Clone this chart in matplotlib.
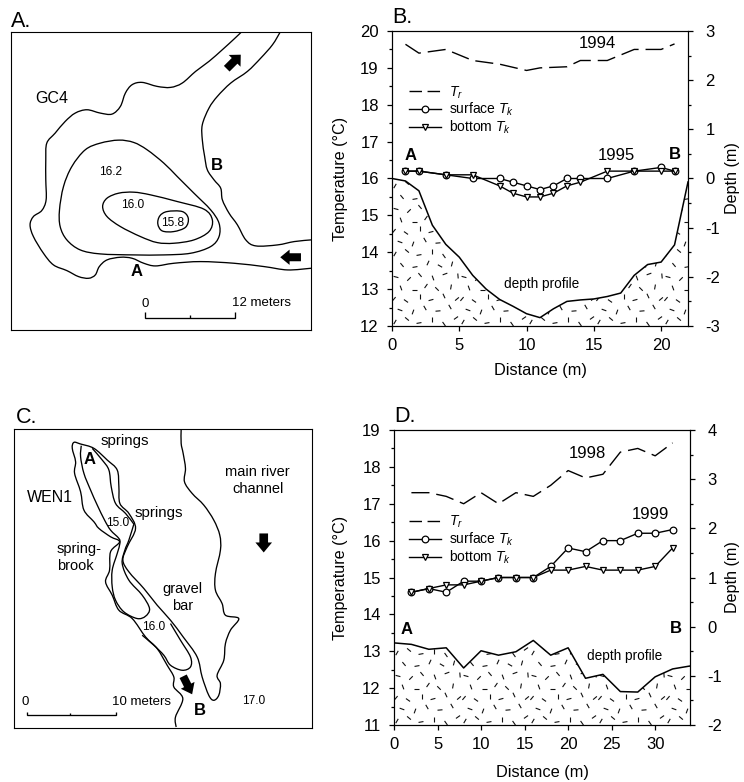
import matplotlib
matplotlib.use('Agg')
import matplotlib.pyplot as plt
import numpy as np
from matplotlib.collections import LineCollection
from matplotlib.lines import Line2D
from matplotlib.patches import FancyArrow, PathPatch, Polygon
from matplotlib.path import Path
from matplotlib.ticker import MultipleLocator

plt.rcParams['font.family'] = ['Liberation Sans', 'DejaVu Sans']
plt.rcParams['axes.unicode_minus'] = False
plt.rcParams['mathtext.fontset'] = 'custom'
plt.rcParams['mathtext.it'] = 'Liberation Sans:italic'
plt.rcParams['mathtext.rm'] = 'Liberation Sans'

W, H = 744, 782

# Panel B, transect GC4
b_tr_x = [1, 2, 4, 6, 8, 10, 11, 13, 14, 16, 18, 20, 21]
b_tr_y = [19.64, 19.4, 19.5, 19.2, 19.1, 18.93, 19.0, 19.03, 19.2, 19.2, 19.5, 19.5, 19.65]
b_k_x = [1, 2, 4, 6, 8, 9, 10, 11, 12, 13, 14, 16, 18, 20, 21]
b_surface = [16.2, 16.2, 16.1, 16.0, 16.0, 15.9, 15.8, 15.7, 15.8, 16.0, 16.0, 16.0, 16.2, 16.3, 16.2]
b_bottom = [16.2, 16.2, 16.1, 16.1, 15.8, 15.6, 15.5, 15.5, 15.6, 15.8, 15.9, 16.2, 16.2, 16.2, 16.2]
b_depth_x = list(range(23))
b_depth = [0.0, -0.05, -0.25, -0.95, -1.34, -1.6, -1.97, -2.25, -2.46, -2.6, -2.75, -2.83,
           -2.65, -2.5, -2.47, -2.45, -2.4, -2.33, -1.97, -1.75, -1.7, -1.35, -0.07]

# Panel D, transect WEN1
d_x = [2, 4, 6, 8, 10, 12, 14, 16, 18, 20, 22, 24, 26, 28, 30, 32]
d_tr = [17.3, 17.3, 17.2, 17.0, 17.3, 17.0, 17.3, 17.2, 17.5, 17.9, 17.7, 17.8, 18.4, 18.5, 18.3, 18.65]
d_surface = [14.6, 14.7, 14.6, 14.9, 14.9, 15.0, 15.0, 15.0, 15.3, 15.8, 15.7, 16.0, 16.0, 16.2, 16.2, 16.3]
d_bottom = [14.6, 14.7, 14.8, 14.8, 14.9, 15.0, 15.0, 15.0, 15.2, 15.2, 15.3, 15.2, 15.2, 15.2, 15.3, 15.8]
d_depth_x = [0, 2, 4, 6, 8, 10, 12, 14, 16, 18, 20, 22, 24, 26, 28, 30, 32, 34]
d_depth = [-0.33, -0.36, -0.46, -0.43, -0.84, -0.49, -0.58, -0.51, -0.28, -0.58, -0.43,
           -1.05, -0.97, -1.32, -1.33, -1.02, -0.86, -0.8]

# Map A outlines
a_left_bank = [(722, 97), (700, 118), (665, 150), (625, 185), (585, 215), (545, 250), (510, 263),
               (470, 260), (425, 248), (395, 255), (375, 280), (360, 320), (335, 343), (300, 340),
               (260, 330), (225, 340), (195, 365), (165, 400), (140, 430), (137, 480), (137, 540),
               (138, 600), (125, 632), (100, 650), (90, 675), (100, 710), (130, 760), (160, 795),
               (200, 812), (235, 830), (265, 835), (285, 825), (297, 800), (320, 780), (360, 772),
               (395, 775), (430, 790), (465, 798), (520, 790), (600, 785), (700, 790), (790, 800),
               (860, 810), (930, 805)]
a_right_bank = [(838, 97), (815, 135), (780, 175), (740, 215), (690, 250), (650, 290), (625, 325),
                (605, 375), (605, 420), (612, 470), (620, 510), (640, 540), (660, 565), (665, 600),
                (685, 640), (710, 675), (735, 720), (765, 738), (830, 735), (880, 725), (930, 720)]
a_c162 = [(355, 421), (400, 428), (440, 450), (490, 490), (530, 530), (580, 580), (630, 630),
          (655, 670), (655, 710), (630, 740), (570, 760), (490, 765), (400, 765), (300, 762),
          (240, 750), (200, 720), (180, 680), (178, 630), (190, 560), (215, 500), (255, 450),
          (300, 430), (355, 421)]
a_c160 = [(400, 577), (450, 585), (530, 605), (610, 628), (635, 660), (625, 695), (580, 720),
          (520, 730), (470, 728), (420, 710), (360, 680), (320, 650), (307, 620), (320, 595),
          (355, 580), (400, 577)]
a_c158 = [(500, 635), (545, 635), (563, 655), (555, 682), (520, 695), (485, 693), (472, 672),
          (478, 648), (500, 635)]

# Map C outlines
c_outer = [(542, 90), (542, 130), (548, 160), (555, 205), (552, 245), (575, 280), (610, 315),
           (640, 360), (658, 405), (660, 450), (645, 520), (645, 570), (665, 610), (675, 645),
           (715, 655), (690, 690), (675, 730), (670, 780), (650, 825), (660, 850), (655, 885),
           (640, 900), (625, 885), (605, 830), (590, 770), (548, 710), (510, 660), (470, 615),
           (430, 565), (385, 515), (367, 480), (380, 440), (405, 385), (385, 340), (358, 310),
           (355, 260), (350, 210), (320, 180), (280, 145), (240, 132), (220, 127), (215, 145),
           (225, 185), (222, 220), (240, 275), (250, 330), (280, 365), (295, 385), (330, 410),
           (357, 425), (330, 455), (327, 510), (315, 545), (335, 585), (355, 630), (395, 655),
           (435, 710), (470, 745), (500, 795), (520, 830), (520, 860), (547, 895), (525, 950),
           (527, 980)]
c_inner_left = [(242, 137), (240, 170), (250, 220), (270, 270), (290, 315), (312, 360), (330, 390),
                (355, 415), (358, 430), (350, 460), (335, 510), (335, 560), (345, 600), (370, 635),
                (410, 655), (435, 648), (447, 625), (425, 585), (385, 540), (365, 490), (373, 450),
                (385, 420), (400, 372)]
c_inner_right = [(275, 145), (305, 180), (325, 210), (332, 260), (345, 310), (375, 340), (400, 372)]
c_c160 = [(425, 705), (460, 735), (490, 765), (510, 795), (545, 810), (570, 800), (570, 770),
          (540, 720), (510, 670)]

# Short dashes of the depth texture, one tile: x px, y px, angle in degrees
tile_x = [3, 15, 27, 40, 52, 64, 8, 21, 33, 46, 58, 2, 14, 28, 39, 52, 65, 9, 22, 34,
          45, 59, 4, 17, 28, 41, 53, 66, 10, 23, 36, 48, 60]
tile_y = [4, 7, 3, 6, 2, 8, 16, 14, 18, 15, 19, 27, 25, 29, 26, 30, 27, 38, 36, 40,
          37, 39, 49, 47, 51, 48, 52, 50, 61, 59, 63, 60, 62]
tile_ang = [60, -40, 10, 90, -55, 35, -20, 70, -60, 5, 120, 50, -35, 90, 15, -65, 40, 110, 0, 55,
            -45, 80, -15, 45, 130, -70, 20, 95, -50, 10, 65, -30, 75]
TILE = 68
DASH = 5


def px_axes(left, top, right, bottom):
    return [left / W, 1 - bottom / H, (right - left) / W, (bottom - top) / H]


def polyline(ax, pts, lw=0.95):
    xs, ys = zip(*pts)
    ax.plot(xs, ys, color='black', lw=lw, solid_joinstyle='miter', solid_capstyle='butt')


def curve(ax, pts, lw=0.95):
    # smooth line through the traced points, as bezier segments
    p = np.array(pts, dtype=float)
    closed = np.allclose(p[0], p[-1])
    verts = [p[0]]
    codes = [Path.MOVETO]
    n = len(p)
    for i in range(n - 1):
        if closed:
            before = p[(i - 1) % (n - 1)]
            after = p[(i + 2) % (n - 1)]
        else:
            before = p[max(i - 1, 0)]
            after = p[min(i + 2, n - 1)]
        verts += [p[i] + (p[i + 1] - before) / 6, p[i + 1] - (after - p[i]) / 6, p[i + 1]]
        codes += [Path.CURVE4] * 3
    ax.add_patch(PathPatch(Path(verts, codes), fc='none', ec='black', lw=lw))


def block_arrow(ax, tail, tip, width, head_width, head_len):
    ax.add_patch(FancyArrow(tail[0], tail[1], tip[0] - tail[0], tip[1] - tail[1], width=width,
                            head_width=head_width, head_length=head_len,
                            length_includes_head=True, color='black', lw=0))


def stipple(ax2, depth_x, depth, box_w, box_h):
    ylow = ax2.get_ylim()[0]
    outline = list(zip(depth_x, depth)) + [(depth_x[-1], ylow), (depth_x[0], ylow)]
    clip = Polygon(outline, closed=True, fc='none', ec='none', transform=ax2.transData)
    ax2.add_patch(clip)
    segs = []
    for ox in np.arange(0, box_w, TILE):
        for oy in np.arange(0, box_h, TILE):
            for x, y, a in zip(tile_x, tile_y, tile_ang):
                dx = DASH / 2 * np.cos(np.radians(a))
                dy = DASH / 2 * np.sin(np.radians(a))
                segs.append([((ox + x - dx) / box_w, (oy + y - dy) / box_h),
                             ((ox + x + dx) / box_w, (oy + y + dy) / box_h)])
    lc = LineCollection(segs, colors='#111111', linewidths=0.8, transform=ax2.transAxes)
    ax2.add_collection(lc, autolim=False)
    lc.set_clip_path(clip)
    ax2.plot(depth_x, depth, color='black', lw=1.1)


def profile(pos, xlim, ylim, rlim, xticks, tr, kx, surface, bottom, depth_x, depth, label_y, leg_pos):
    ax = fig.add_axes(px_axes(*pos))
    ax2 = ax.twinx()
    box_w = pos[2] - pos[0]
    box_h = pos[3] - pos[1]

    ax.plot(tr[0], tr[1], color='black', lw=1.0, dashes=(13, 5))
    ax.plot(kx, surface, color='black', lw=1.0, marker='o', ms=4.8, mfc='white', mec='black', mew=0.9)
    ax.plot(kx, bottom, color='black', lw=1.0, marker='v', ms=5, mfc='white', mec='black', mew=0.9)

    ax.set_xlim(*xlim)
    ax.set_ylim(*ylim)
    ax2.set_ylim(*rlim)
    stipple(ax2, depth_x, depth, box_w, box_h)

    ax.set_xticks(xticks)
    ax.yaxis.set_major_locator(MultipleLocator(1))
    ax.yaxis.set_minor_locator(MultipleLocator(0.5))
    ax2.yaxis.set_major_locator(MultipleLocator(1))
    ax2.yaxis.set_minor_locator(MultipleLocator(0.5))
    ax.tick_params(axis='x', length=3.5, width=0.9, pad=5, labelsize=12)
    ax.tick_params(axis='y', which='major', length=3.5, width=0.9, pad=6, labelsize=12)
    ax.tick_params(axis='y', which='minor', length=2.5, width=0.9)
    ax2.tick_params(axis='y', which='major', length=3.5, width=0.9, pad=9, labelsize=12)
    ax2.tick_params(axis='y', which='minor', length=2.5, width=0.9)

    ax.set_xlabel('Distance (m)', fontsize=11.8, va='center')
    ax.xaxis.set_label_coords(0.5, -(label_y - pos[3]) / box_h)
    ax.set_ylabel('Temperature (°C)', fontsize=11.6, va='center')
    ax.yaxis.set_label_coords(-(pos[0] - 340) / box_w, 0.5)
    ax2.set_ylabel('Depth (m)', fontsize=11.6, va='center')
    ax2.yaxis.set_label_coords(1 + (733 - pos[2]) / box_w, 0.5)

    handles = [Line2D([], [], color='black', lw=1.0, dashes=(9, 4)),
               Line2D([], [], color='black', lw=1.0, marker='o', ms=4.8, mfc='white', mew=0.9),
               Line2D([], [], color='black', lw=1.0, marker='v', ms=5, mfc='white', mew=0.9)]
    ax.legend(handles, ['$T_r$', 'surface $T_k$', 'bottom $T_k$'], loc='upper left',
              bbox_to_anchor=leg_pos, frameon=False, fontsize=10, borderpad=0, borderaxespad=0,
              handlelength=2.3, handletextpad=0.6, labelspacing=0.02, numpoints=1)
    return ax, ax2


fig = plt.figure(figsize=(W / 100, H / 100), dpi=100)

for s, x, y in [('A.', 11, 27), ('B.', 392, 23), ('C.', 16, 423), ('D.', 394, 422)]:
    fig.text(x / W, 1 - y / H, s, fontsize=15.5, ha='left', va='baseline')

# Panel A
ax_a = fig.add_axes(px_axes(11, 32, 311, 330))
ax_a.set_xlim(33, 930)
ax_a.set_ylim(990, 97)
ax_a.set_xticks([])
ax_a.set_yticks([])
for pts in [a_left_bank, a_right_bank, a_c162, a_c160, a_c158]:
    curve(ax_a, pts)
block_arrow(ax_a, (678, 207), (720, 165), 24, 50, 26)
block_arrow(ax_a, (900, 772), (838, 772), 24, 46, 28)
polyline(ax_a, [(435, 935), (435, 955), (703, 955), (703, 935)])
polyline(ax_a, [(568, 945), (568, 955)])
for s, x, y, fs, fw in [('GC4', 155, 297, 11.5, 'normal'), ('16.2', 330, 518, 8.6, 'normal'),
                        ('16.0', 398, 615, 8.6, 'normal'), ('15.8', 515, 668, 8.6, 'normal'),
                        ('A', 408, 815, 12, 'bold'), ('B', 650, 497, 12, 'bold'),
                        ('0', 435, 912, 9.5, 'normal'), ('12 meters', 781, 910, 9.5, 'normal')]:
    ax_a.text(x, y, s, fontsize=fs, fontweight=fw, ha='center', va='center')

# Panel C
ax_c = fig.add_axes(px_axes(14, 429, 312, 728))
ax_c.set_xlim(40, 935)
ax_c.set_ylim(983, 87)
ax_c.set_xticks([])
ax_c.set_yticks([])
for pts in [c_outer, c_inner_left, c_inner_right, c_c160]:
    curve(ax_c, pts)
block_arrow(ax_c, (790, 400), (790, 457), 26, 50, 30)
block_arrow(ax_c, (548, 828), (575, 882), 24, 46, 30)
polyline(ax_c, [(78, 935), (78, 945), (347, 945), (347, 935)])
polyline(ax_c, [(208, 937), (208, 945)])
for s, x, y, fs, fw in [('springs', 374, 122, 10.8, 'normal'), ('A', 268, 178, 12, 'bold'),
                        ('WEN1', 147, 292, 11.5, 'normal'), ('main river', 772, 215, 10.5, 'normal'),
                        ('channel', 772, 268, 10.5, 'normal'), ('springs', 476, 338, 10.8, 'normal'),
                        ('15.0', 350, 368, 8.6, 'normal'), ('spring-', 236, 447, 10.5, 'normal'),
                        ('brook', 224, 497, 10.5, 'normal'), ('gravel', 545, 565, 10.5, 'normal'),
                        ('bar', 545, 618, 10.5, 'normal'), ('16.0', 460, 680, 8.6, 'normal'),
                        ('17.0', 760, 902, 8.6, 'normal'), ('B', 597, 930, 12, 'bold'),
                        ('0', 73, 905, 9.5, 'normal'), ('10 meters', 424, 905, 9.5, 'normal')]:
    ax_c.text(x, y, s, fontsize=fs, fontweight=fw, ha='center', va='center')

# Panel B
ax_b, ax_b2 = profile((392, 31, 688, 326), (0, 22), (12, 20), (-3, 3), [0, 5, 10, 15, 20],
                      (b_tr_x, b_tr_y), b_k_x, b_surface, b_bottom, b_depth_x, b_depth,
                      371, (0.057, 0.82))
for s, x, y, fw, fs in [('1994', 15.3, 19.65, 'normal', 12), ('1995', 16.7, 16.63, 'normal', 12),
                        ('A', 1.36, 16.62, 'bold', 12), ('B', 21, 16.66, 'bold', 12),
                        ('depth profile', 11.1, 13.13, 'normal', 9.8)]:
    ax_b.text(x, y, s, fontweight=fw, fontsize=fs, ha='center', va='center')

# Panel D
ax_d, ax_d2 = profile((394, 430, 690, 725), (0, 34), (11, 19), (-2, 4), [0, 5, 10, 15, 20, 25, 30],
                      (d_x, d_tr), d_x, d_surface, d_bottom, d_depth_x, d_depth,
                      772, (0.05, 0.715))
for s, x, y, fw, fs in [('1998', 22.2, 18.37, 'normal', 12), ('1999', 29.4, 16.7, 'normal', 12),
                        ('A', 1.5, 13.59, 'bold', 12), ('B', 32.4, 13.61, 'bold', 12),
                        ('depth profile', 26.5, 12.87, 'normal', 9.8)]:
    ax_d.text(x, y, s, fontweight=fw, fontsize=fs, ha='center', va='center')

fig.savefig('out.png', dpi=100)
